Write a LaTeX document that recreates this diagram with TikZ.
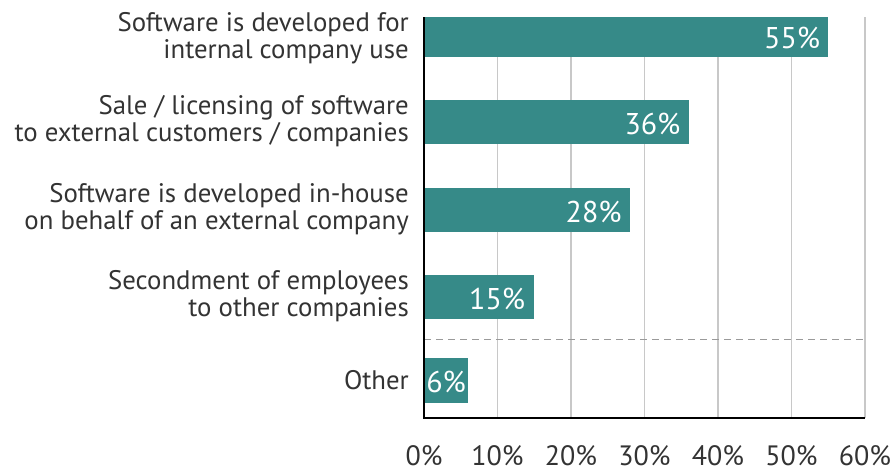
\documentclass[tikz,border=0pt]{standalone}
\usepackage{fontspec}
\setmainfont{PT Sans}
\definecolor{barc}{HTML}{368A88}
\definecolor{txtc}{HTML}{333333}
\definecolor{gridc}{HTML}{C8C8C8}
\definecolor{dashc}{HTML}{9A9A9A}
\begin{document}
\begin{tikzpicture}[x=1pt,y=-1pt,
  gridline/.style={gridc,line width=1.2pt},
  barbox/.style={fill=barc},
  cat/.style={anchor=east,align=right,text=txtc,inner sep=0pt,font=\fontsize{26.8}{27}\selectfont},
  val/.style={anchor=east,text=white,inner sep=0pt,font=\fontsize{30}{32}\selectfont},
  tick/.style={text=txtc,inner sep=0pt,font=\fontsize{28}{30}\selectfont}]
\useasboundingbox (0,0) rectangle (893,472);
% grid
\foreach \p in {1,...,6}
  \draw[gridline] (424+\p*73.5,17) -- (424+\p*73.5,418);
\draw[dashc,line width=1pt,dash pattern=on 7pt off 5pt] (424,339) -- (865,339);
% bars
\fill[barbox] (424,17) rectangle (424+55*7.35,57);
\fill[barbox] (424,100) rectangle (424+36*7.35,144);
\fill[barbox] (424,188) rectangle (424+28*7.35,232);
\fill[barbox] (424,275) rectangle (424+15*7.35,319);
\fill[barbox] (424,358) rectangle (424+6*7.35,403);
% values
\node[val] (v1) at (424+55*7.35-8,38) {55\%};
\node[val] (v2) at (424+36*7.35-8,124) {36\%};
\node[val] (v3) at (424+28*7.35-8,212) {28\%};
\node[val] (v4) at (424+15*7.35-9,299) {15\%};
\node[val] (v5) at (424+6*7.35-2,382) {6\%};
% categories
\node[cat] (c1) at (409,38) {Software is developed for\\internal company use};
\node[cat] (c2) at (409,121) {Sale / licensing of software\\to external customers / companies};
\node[cat] (c3) at (409,209) {Software is developed in-house\\on behalf of an external company};
\node[cat] (c4) at (409,296) {Secondment of employees\\to other companies};
\node[cat] (c5) at (409,380) {Other};
% axis
\draw[black,line width=1.8pt] (424,17) -- (424,418) -- (865,418);
% ticks
\node[tick] (t0) at (424,456) {0\%};
\foreach \p in {1,...,6}
  \node[tick] (t\p) at (424+\p*73.5,456) {\p0\%};
\end{tikzpicture}
\end{document}
